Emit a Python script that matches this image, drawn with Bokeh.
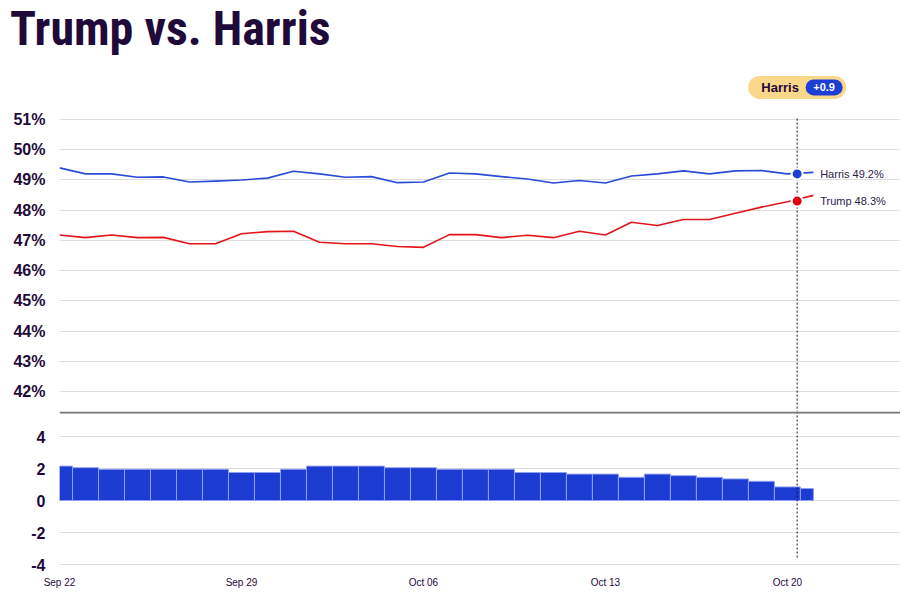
import pandas as pd
from bokeh.plotting import figure
from bokeh.layouts import column
from bokeh.models import Range1d, FixedTicker, DatetimeTickFormatter, Span, Div
from bokeh.core.properties import value
from bokeh.embed import file_html
from bokeh.resources import INLINE

# ---------------- data ----------------
title_text = "Trump vs. Harris"
dates = ["2024-09-22", "2024-09-23", "2024-09-24", "2024-09-25", "2024-09-26",
         "2024-09-27", "2024-09-28", "2024-09-29", "2024-09-30", "2024-10-01",
         "2024-10-02", "2024-10-03", "2024-10-04", "2024-10-05", "2024-10-06",
         "2024-10-07", "2024-10-08", "2024-10-09", "2024-10-10", "2024-10-11",
         "2024-10-12", "2024-10-13", "2024-10-14", "2024-10-15", "2024-10-16",
         "2024-10-17", "2024-10-18", "2024-10-19", "2024-10-20", "2024-10-21"]
harris = [49.40, 49.20, 49.20, 49.09, 49.10, 48.93, 48.96, 49.00, 49.06, 49.29,
          49.20, 49.09, 49.11, 48.91, 48.93, 49.23, 49.20, 49.11, 49.03, 48.90,
          48.98, 48.90, 49.13, 49.20, 49.30, 49.20, 49.30, 49.31, 49.20, 49.25]
trump = [47.18, 47.09, 47.18, 47.09, 47.10, 46.89, 46.89, 47.22, 47.29, 47.30,
         46.94, 46.89, 46.89, 46.80, 46.77, 47.19, 47.19, 47.09, 47.17, 47.09,
         47.30, 47.18, 47.60, 47.49, 47.69, 47.69, 47.90, 48.10, 48.28, 48.49]
margin = [2.15, 2.05, 1.95, 1.95, 1.95, 1.95, 1.95, 1.75, 1.75, 1.95,
          2.15, 2.15, 2.15, 2.05, 2.05, 1.95, 1.95, 1.95, 1.75, 1.75,
          1.65, 1.65, 1.45, 1.65, 1.55, 1.45, 1.35, 1.20, 0.85, 0.75]

marker_time = "2024-10-20 09:00"
marker_harris = 49.2
marker_trump = 48.3
marker_lead = "+0.9"
leader = "Harris"

pct_ticks = [42, 43, 44, 45, 46, 47, 48, 49, 50, 51]
pct_labels = ["42%", "43%", "44%", "45%", "46%", "47%", "48%", "49%", "50%", "51%"]
margin_ticks = [-4, -2, 0, 2, 4]
margin_labels = ["-4", "-2", "0", "2", "4"]
date_ticks = ["2024-09-22", "2024-09-29", "2024-10-06", "2024-10-13", "2024-10-20"]

# ---------------- styles ----------------
DARK = "#1f0a3a"
BLUE_LINE = "#2a4bd7"
RED_LINE = "#e3141b"
BAR_FILL = "#1c3bd3"
BAR_LINE = "#8fa0f0"
GRID = "#dddddd"
FONT = "Liberation Sans"
TITLE_FONT = "'Roboto Condensed', 'DejaVu Sans Condensed', sans-serif"

x = pd.to_datetime(dates)
mt = pd.Timestamp(marker_time)
x_start = x[0]
x_end = x_start + pd.Timedelta(days=32.35)
xr = Range1d(start=x_start, end=x_end)

# ---------------- title ----------------
title = Div(text=title_text, width=900, height=62, margin=(0, 0, 0, 0),
            styles={"font-family": TITLE_FONT, "font-size": "48px", "font-weight": "bold",
                    "color": DARK, "line-height": "57px", "padding-left": "10px",
                    "white-space": "nowrap"})

# ---------------- top figure ----------------
p1 = figure(x_axis_type="datetime", x_range=xr, y_range=Range1d(41.338, 52.886),
            frame_width=841, frame_height=349,
            min_border_left=59, min_border_right=0, min_border_top=0, min_border_bottom=0,
            x_axis_location=None, output_backend="svg", toolbar_location=None)
p1.outline_line_color = None
p1.background_fill_color = "white"
p1.border_fill_color = "white"
p1.xgrid.visible = False
p1.ygrid.grid_line_color = GRID
p1.ygrid.grid_line_width = 1
p1.yaxis.ticker = FixedTicker(ticks=pct_ticks)
p1.yaxis.major_label_overrides = dict(zip(pct_ticks, pct_labels))
p1.yaxis.axis_line_color = None
p1.yaxis.major_tick_line_color = None
p1.yaxis.minor_tick_line_color = None
p1.yaxis.major_label_standoff = 8
p1.yaxis.major_label_text_font = FONT
p1.yaxis.major_label_text_font_size = "16px"
p1.yaxis.major_label_text_font_style = "bold"
p1.yaxis.major_label_text_color = DARK

p1.segment(x0=[mt], y0=[51.03], x1=[mt], y1=[41.338], line_color=DARK,
           line_width=1, line_dash="2 2")

p1.line(x, harris, line_color=BLUE_LINE, line_width=1.6, line_join="round")
p1.line(x, trump, line_color=RED_LINE, line_width=1.6, line_join="round")

p1.scatter([mt], [marker_harris], size=11, fill_color="#1c40d6", line_color="white", line_width=2)
p1.scatter([mt], [marker_trump], size=11, fill_color="#e0000e", line_color="white", line_width=2)

p1.text(x=[mt, mt], y=[marker_harris, marker_trump],
        text=[f"Harris {marker_harris:.1f}%", f"Trump {marker_trump:.1f}%"],
        x_offset=23, text_baseline="middle", text_align="left",
        text_font=value(FONT), text_font_size="11px", text_color="#2b1d46")

# badge
badge_y = 52.06
p1.rect(x=[mt], y=[badge_y], width=98, height=23, width_units="screen", height_units="screen",
        fill_color="#f9d88a", line_color=None, border_radius=12)
inner_x = mt + pd.Timedelta(hours=24.9)
p1.rect(x=[inner_x], y=[badge_y], width=37, height=16, width_units="screen", height_units="screen",
        fill_color="#1c3ed4", line_color=None, border_radius=8)
p1.text(x=[mt], y=[badge_y], text=[leader], x_offset=-17, text_align="center",
        text_baseline="middle", text_font=value(FONT), text_font_size="13px",
        text_font_style="bold", text_color=DARK)
p1.text(x=[inner_x], y=[badge_y], text=[marker_lead], text_align="center",
        text_baseline="middle", text_font=value(FONT), text_font_size="11px",
        text_font_style="bold", text_color="white")

# ---------------- bottom figure ----------------
p2 = figure(x_axis_type="datetime", x_range=xr, y_range=Range1d(-4.3125, 5.5625),
            frame_width=841, frame_height=158,
            min_border_left=59, min_border_right=0, min_border_top=0, min_border_bottom=0,
            output_backend="svg", toolbar_location=None)
p2.outline_line_color = None
p2.background_fill_color = "white"
p2.border_fill_color = "white"
p2.xgrid.visible = False
p2.ygrid.grid_line_color = GRID
p2.yaxis.ticker = FixedTicker(ticks=margin_ticks)
p2.yaxis.major_label_overrides = dict(zip(margin_ticks, margin_labels))
p2.yaxis.axis_line_color = None
p2.yaxis.major_tick_line_color = None
p2.yaxis.minor_tick_line_color = None
p2.yaxis.major_label_standoff = 8
p2.yaxis.major_label_text_font = FONT
p2.yaxis.major_label_text_font_size = "16px"
p2.yaxis.major_label_text_font_style = "bold"
p2.yaxis.major_label_text_color = DARK

tick_ms = [pd.Timestamp(d).value // 10**6 for d in date_ticks]
p2.xaxis.ticker = FixedTicker(ticks=tick_ms)
p2.xaxis.formatter = DatetimeTickFormatter(days="%b %d", months="%b %d", hours="%b %d",
                                           hourmin="%b %d", minutes="%b %d", years="%b %d")
p2.xaxis.axis_line_color = None
p2.xaxis.major_tick_line_color = None
p2.xaxis.minor_tick_line_color = None
p2.xaxis.major_tick_out = 0
p2.xaxis.major_label_standoff = 7
p2.xaxis.major_label_text_font = FONT
p2.xaxis.major_label_text_font_size = "10px"
p2.xaxis.major_label_text_color = DARK

half = pd.Timedelta(hours=12)
lefts = [max(d - half, x[0]) for d in x]
rights = [min(d + half, x[-1]) for d in x]
p2.quad(left=lefts, right=rights, bottom=0, top=margin,
        fill_color=BAR_FILL, line_color=BAR_LINE, line_width=1)

p2.add_layout(Span(location=5.5, dimension="width", line_color="#777777", line_width=2))
p2.segment(x0=[mt], y0=[5.5625], x1=[mt], y1=[-3.56], line_color=DARK,
           line_width=1, line_dash="2 2")

layout = column(title, p1, p2, spacing=0)
open("out.html", "w").write(file_html(layout, INLINE))
